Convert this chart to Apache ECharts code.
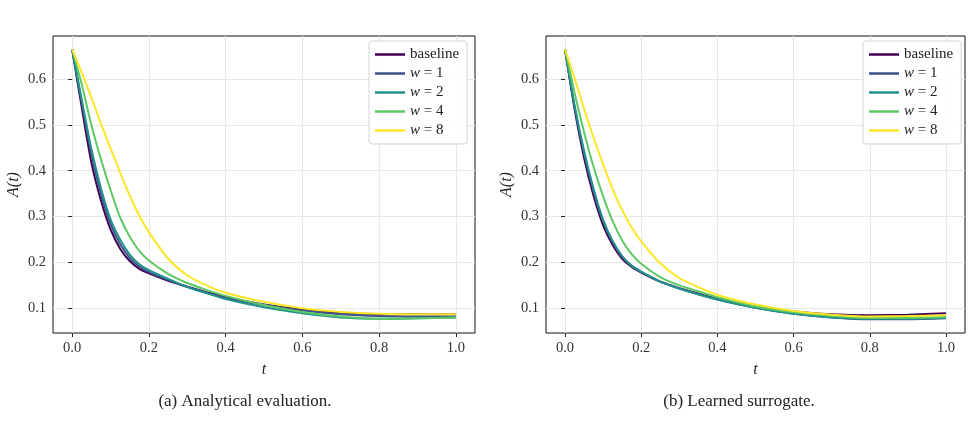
<!DOCTYPE html>
<html>
<head>
<meta charset="utf-8">
<script src="https://cdn.jsdelivr.net/npm/echarts@6/dist/echarts.min.js"></script>
<style>
  html, body { margin: 0; padding: 0; background: #fff; }
  #chart { width: 971px; height: 435px; }
</style>
</head>
<body>
<div id="chart"></div>
<script>
// time samples shared by every curve
const tValues = [0, 0.025, 0.05, 0.075, 0.1, 0.125, 0.15, 0.175, 0.2, 0.25, 0.3, 0.35, 0.4, 0.5, 0.6, 0.7, 0.8, 0.9, 1.0];

const seriesNames = ['baseline', 'w = 1', 'w = 2', 'w = 4', 'w = 8'];
const seriesColors = ['#440154', '#3b528b', '#21918c', '#5ec962', '#fde725'];

// (a) analytical evaluation
const analyticBaseline = [0.665, 0.538, 0.418, 0.335, 0.272, 0.230, 0.203, 0.186, 0.176, 0.160, 0.147, 0.135, 0.124, 0.108, 0.097, 0.090, 0.087, 0.087, 0.087];
const analyticW1 = [0.665, 0.548, 0.437, 0.350, 0.284, 0.240, 0.210, 0.191, 0.179, 0.162, 0.147, 0.134, 0.123, 0.107, 0.095, 0.087, 0.083, 0.082, 0.082];
const analyticW2 = [0.665, 0.555, 0.448, 0.362, 0.294, 0.250, 0.217, 0.196, 0.183, 0.164, 0.146, 0.133, 0.120, 0.102, 0.089, 0.080, 0.077, 0.078, 0.080];
const analyticW4 = [0.665, 0.588, 0.500, 0.425, 0.358, 0.298, 0.256, 0.225, 0.204, 0.175, 0.155, 0.140, 0.127, 0.107, 0.092, 0.082, 0.077, 0.078, 0.080];
const analyticW8 = [0.665, 0.614, 0.560, 0.503, 0.449, 0.396, 0.346, 0.302, 0.266, 0.208, 0.172, 0.150, 0.134, 0.114, 0.100, 0.092, 0.088, 0.087, 0.087];

// (b) learned surrogate
const learnedBaseline = [0.665, 0.535, 0.428, 0.345, 0.281, 0.238, 0.208, 0.190, 0.178, 0.158, 0.144, 0.132, 0.121, 0.104, 0.093, 0.087, 0.085, 0.086, 0.089];
const learnedW1 = [0.665, 0.540, 0.438, 0.355, 0.289, 0.244, 0.212, 0.192, 0.179, 0.158, 0.143, 0.131, 0.119, 0.101, 0.088, 0.080, 0.076, 0.076, 0.078];
const learnedW2 = [0.665, 0.543, 0.443, 0.360, 0.293, 0.247, 0.214, 0.193, 0.180, 0.158, 0.143, 0.130, 0.119, 0.101, 0.088, 0.080, 0.077, 0.077, 0.079];
const learnedW4 = [0.665, 0.570, 0.484, 0.408, 0.344, 0.290, 0.248, 0.218, 0.197, 0.168, 0.150, 0.137, 0.124, 0.104, 0.091, 0.083, 0.079, 0.079, 0.081];
const learnedW8 = [0.665, 0.602, 0.535, 0.472, 0.414, 0.360, 0.314, 0.276, 0.246, 0.198, 0.166, 0.146, 0.129, 0.108, 0.094, 0.086, 0.082, 0.083, 0.085];

const xTicks = [0, 0.2, 0.4, 0.6, 0.8, 1.0];
const yTicks = [0.1, 0.2, 0.3, 0.4, 0.5, 0.6];
const captions = ['(a) Analytical evaluation.', '(b) Learned surrogate.'];

const panels = [
  [analyticBaseline, analyticW1, analyticW2, analyticW4, analyticW8],
  [learnedBaseline, learnedW1, learnedW2, learnedW4, learnedW8]
];

const FONT = 'Liberation Serif';
const gridLeft = [53, 546];
const gridWidth = [422, 419];

function makeXAxis(i) {
  return {
    type: 'value', gridIndex: i, min: -0.05, max: 1.05,
    name: 't', nameLocation: 'middle', nameGap: 29,
    nameTextStyle: {fontFamily: FONT, fontStyle: 'italic', fontSize: 16, color: '#222'},
    axisLine: {show: false},
    axisTick: {show: true, customValues: xTicks, length: 4, lineStyle: {color: '#222'}},
    axisLabel: {customValues: xTicks, fontFamily: FONT, fontSize: 14.5, color: '#333', margin: 8,
      formatter: v => v.toFixed(1)},
    splitLine: {show: true, lineStyle: {color: '#e8e8e8', width: 1}}
  };
}

function makeYAxis(i) {
  return {
    type: 'value', gridIndex: i, min: 0.046, max: 0.694,
    name: 'A(t)', nameLocation: 'middle', nameGap: 31, nameRotate: 90,
    nameTextStyle: {fontFamily: FONT, fontStyle: 'italic', fontSize: 16, color: '#222'},
    axisLine: {show: false},
    axisTick: {show: true, customValues: yTicks, length: 4, lineStyle: {color: '#222'}},
    axisLabel: {customValues: yTicks, fontFamily: FONT, fontSize: 14.5, color: '#333', margin: 7,
      formatter: v => v.toFixed(1)},
    splitLine: {show: true, lineStyle: {color: '#e8e8e8', width: 1}}
  };
}

function legendLabel(name) {
  if (name === 'baseline') return '{n|baseline}';
  return '{i|w}{n| = ' + name.split('=')[1].trim() + '}';
}

function makeLegend(i) {
  return {
    left: [369, 863][i], top: 41,
    orient: 'vertical', itemGap: 4,
    itemWidth: 30, itemHeight: 2.5, icon: 'rect',
    padding: [6, 8, 6, 6],
    borderColor: '#d5d5d5', borderWidth: 1, borderRadius: 3,
    backgroundColor: 'rgba(255,255,255,0.85)',
    data: seriesNames,
    formatter: legendLabel,
    textStyle: {
      fontFamily: FONT, fontSize: 15, color: '#222',
      rich: {
        n: {fontFamily: FONT, fontSize: 15, color: '#222'},
        i: {fontFamily: FONT, fontSize: 15, fontStyle: 'italic', color: '#222'}
      }
    }
  };
}

const series = [];
panels.forEach((curves, p) => {
  curves.forEach((vals, k) => {
    series.push({
      type: 'line', name: seriesNames[k], xAxisIndex: p, yAxisIndex: p,
      data: tValues.map((t, j) => [t, vals[j]]),
      showSymbol: false, smooth: 0.25,
      lineStyle: {color: seriesColors[k], width: 2},
      itemStyle: {color: seriesColors[k]},
      z: 2 + k
    });
  });
});

const chart = echarts.init(document.getElementById('chart'), null, {renderer: 'canvas'});
chart.setOption({
  animation: false,
  backgroundColor: '#fff',
  title: captions.map((c, i) => ({
    text: c, left: [240, 734][i], top: 388, textAlign: 'center',
    textStyle: {fontFamily: FONT, fontSize: 17, fontWeight: 'normal', color: '#222'}
  })),
  grid: [0, 1].map(i => ({
    left: gridLeft[i], top: 36, width: gridWidth[i], height: 297,
    show: true, borderColor: '#111', borderWidth: 1, backgroundColor: 'transparent'
  })),
  legend: [makeLegend(0), makeLegend(1)],
  xAxis: [makeXAxis(0), makeXAxis(1)],
  yAxis: [makeYAxis(0), makeYAxis(1)],
  series: series
});
</script>
</body>
</html>
